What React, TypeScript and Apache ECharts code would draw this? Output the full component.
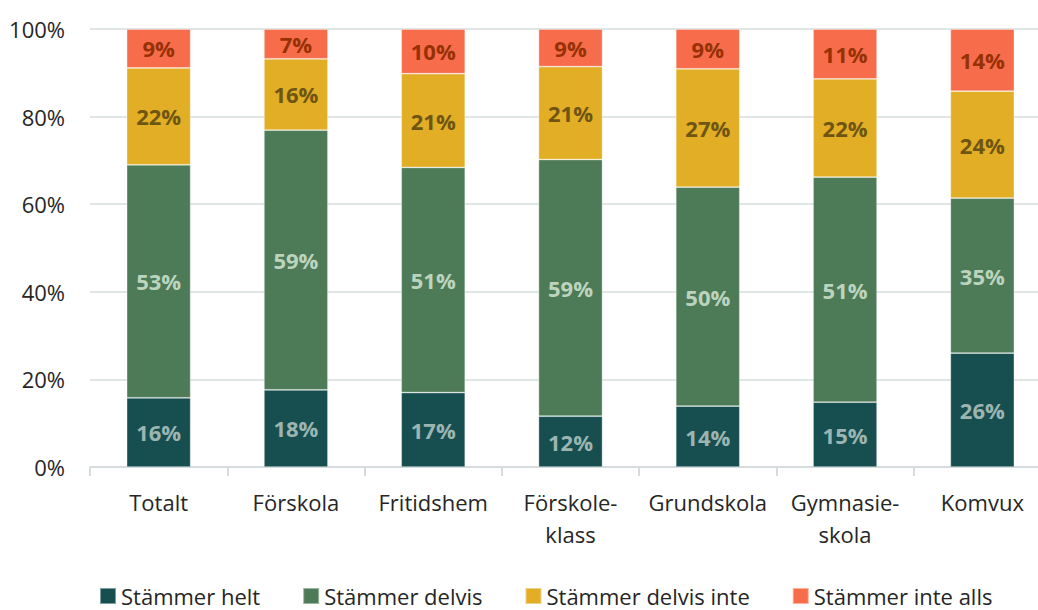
import React, { useEffect, useRef } from "react";
import * as echarts from "echarts";

const categories = ["Totalt", "Förskola", "Fritidshem", "Förskole-\nklass", "Grundskola", "Gymnasie-\nskola", "Komvux"];
const seriesNames = ["Stämmer helt", "Stämmer delvis", "Stämmer delvis inte", "Stämmer inte alls"];
const helt = [15.8, 17.6, 17.0, 11.6, 13.9, 14.8, 26.0];
const delvis = [53.2, 59.3, 51.4, 58.6, 50.0, 51.4, 35.4];
const delvisInte = [22.1, 16.3, 21.4, 21.2, 27.0, 22.4, 24.4];
const inteAlls = [8.9, 6.8, 10.2, 8.6, 9.1, 11.4, 14.2];
const yTicks = [0, 20, 40, 60, 80, 100];

const colors = ["#174f50", "#4e7b57", "#e1ae25", "#f76d4b"];
const labelColors = ["#9cb5b1", "#bcd4be", "#6f5512", "#963105"];
const FONT = "'Open Sans', 'Noto Sans', sans-serif";

export default function App() {
  const ref = useRef<HTMLDivElement>(null);
  useEffect(() => {
    if (!ref.current) return;
    const chart = echarts.init(ref.current, null, { renderer: "svg" });
    const data = [helt, delvis, delvisInte, inteAlls];
    chart.setOption({
      animation: false,
      textStyle: { fontFamily: FONT },
      grid: { left: 90, top: 29, right: 0, bottom: 143, containLabel: false },
      legend: {
        bottom: 3,
        left: 99,
        padding: 0,
        itemWidth: 16,
        itemHeight: 16,
        itemGap: 42,
        icon: "rect",
        textStyle: { fontSize: 22, lineHeight: 16, color: "#262626", fontFamily: FONT },
        data: seriesNames,
      },
      xAxis: {
        type: "category",
        data: categories,
        axisLine: { lineStyle: { color: "#d6dcdd", width: 2 } },
        axisTick: { show: true, length: 9, lineStyle: { color: "#d6dcdd", width: 2 } },
        axisLabel: {
          color: "#262626",
          fontSize: 22,
          lineHeight: 32,
          margin: 19,
          interval: 0,
          fontFamily: FONT,
        },
      },
      yAxis: {
        type: "value",
        min: yTicks[0],
        max: yTicks[yTicks.length - 1],
        interval: 20,
        axisLine: { show: false },
        axisTick: { show: false },
        splitLine: { lineStyle: { color: "#d6dcdd", width: 1.5 } },
        axisLabel: {
          color: "#262626",
          fontSize: 22,
          margin: 25,
          formatter: "{value}%",
          fontFamily: FONT,
        },
      },
      series: seriesNames.map((name, i) => ({
        name,
        type: "bar",
        stack: "total",
        barWidth: 64,
        data: data[i],
        itemStyle: { color: colors[i], borderColor: "rgba(255,255,255,0.45)", borderWidth: 0.75 },
        label: {
          show: true,
          position: "inside",
          color: labelColors[i],
          fontSize: 22,
          fontWeight: "bold",
          fontFamily: FONT,
          formatter: (p: any) => Math.round(p.value) + "%",
        },
      })),
    });
    return () => chart.dispose();
  }, []);
  return (
    <div
      ref={ref}
      style={{ position: "fixed", left: 0, top: 0, width: 1051, height: 610, background: "#fff" }}
    />
  );
}
